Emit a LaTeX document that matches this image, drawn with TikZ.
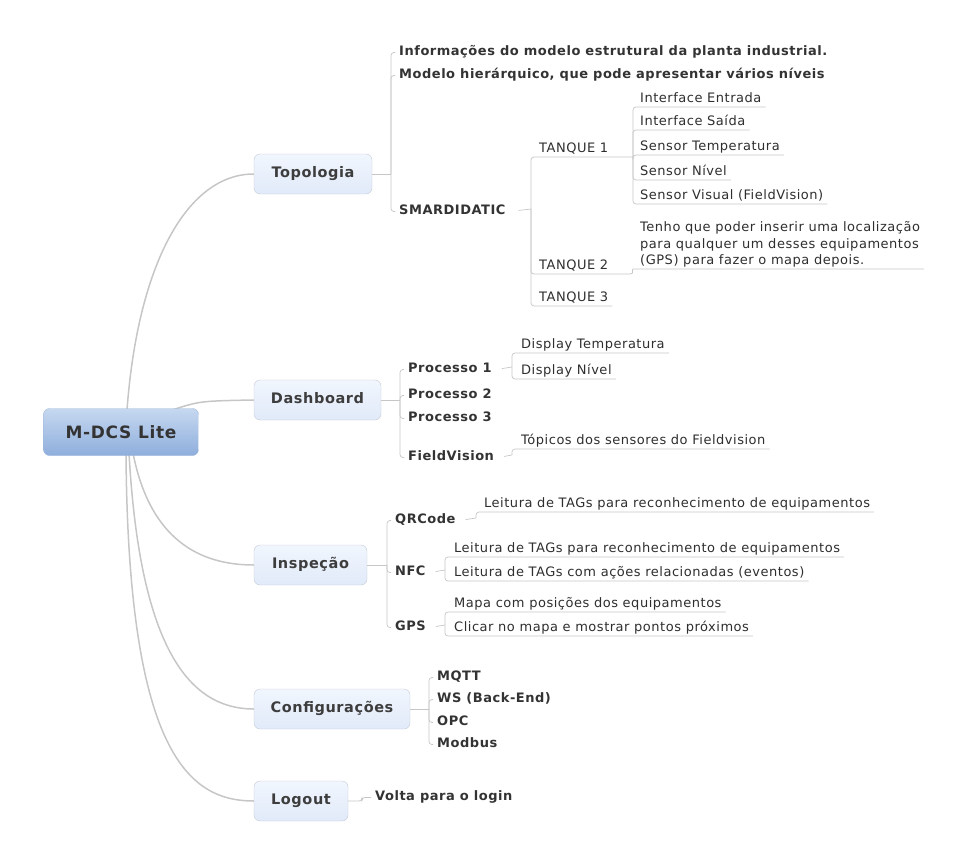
\documentclass[tikz,border=0pt]{standalone}
\usepackage{fontspec}
\setmainfont{DejaVu Sans}[LetterSpace=4]
\usetikzlibrary{positioning}

\definecolor{lineGray}{HTML}{C6C6C6}
\definecolor{textGray}{HTML}{333333}
\definecolor{rootTop}{HTML}{C6D8F0}
\definecolor{rootBot}{HTML}{8EAEDC}
\definecolor{rootLine}{HTML}{9DB6DA}
\definecolor{topicTop}{HTML}{F1F6FE}
\definecolor{topicBot}{HTML}{E1EAF9}
\definecolor{topicLine}{HTML}{C4CAD4}

\begin{document}
\begin{tikzpicture}[x=1pt, y=-1pt,
    rootbox/.style={draw=rootLine, rounded corners=6pt, top color=rootTop, bottom color=rootBot,
        minimum width=155pt, minimum height=47pt, text=textGray,
        font=\fontsize{17}{20}\selectfont\bfseries},
    topic/.style={draw=topicLine, rounded corners=6pt, top color=topicTop, bottom color=topicBot,
        minimum height=40pt, text=textGray!95, text height=0.72em, text depth=0.1em,
        font=\fontsize{14.5}{17}\selectfont\bfseries},
    sub/.style={anchor=west, inner xsep=4pt, inner ysep=1pt, text=textGray,
        text height=0.75em, text depth=0.2em, yshift=-2.5pt,
        font=\fontsize{13}{15}\selectfont\bfseries},
    leaf/.style={anchor=south west, inner xsep=4pt, inner ysep=2pt, text=textGray!90!black,
        text depth=0.22em, font=\fontsize{13}{16.5}\selectfont},
    branch/.style={draw=lineGray, line width=1.5pt},
    twig/.style={draw=lineGray, line width=0.7pt, rounded corners=3pt},
]
\useasboundingbox (0,0) rectangle (971,864);

% main topics
\node[topic, minimum width=118pt] (topo) at (313,174) {Topologia};
\node[topic, minimum width=127pt] (dash) at (317.5,400) {Dashboard};
\node[topic, minimum width=113pt] (insp) at (310.5,565) {Inspeção};
\node[topic, minimum width=156pt] (conf) at (332,709) {Configurações};
\node[topic, minimum width=94pt] (logo) at (301,801) {Logout};

% branches out of the root
\coordinate (rTopo) at (127,410);
\coordinate (rDash) at (172,410);
\coordinate (rInsp) at (133,453);
\coordinate (rConf) at (129,453);
\coordinate (rLogo) at (126,453);
\draw[branch] (rTopo) .. controls (138,262) and (188,174) .. (topo.west);
\draw[branch] (rDash) .. controls (200,401) .. (dash.west);
\draw[branch] (rInsp) .. controls (150,540) and (200,565) .. (insp.west);
\draw[branch] (rConf) .. controls (140,650) and (190,709) .. (conf.west);
\draw[branch] (rLogo) .. controls (128,755) and (190,801) .. (logo.west);

\node[rootbox] (root) at (121,432) {M-DCS Lite};

% Topologia
\coordinate (topoB) at (391,174);
\node[sub] (info) at (395,50) {Informações do modelo estrutural da planta industrial.};
\node[sub] (hier) at (395,73) {Modelo hierárquico, que pode apresentar vários níveis};
\node[sub] (smar) at (395,209) {SMARDIDATIC};
\draw[twig] (topo.east) -- (topoB);
\foreach \n in {info,hier,smar}
    \draw[twig] (topoB) |- (\n.west);

% SMARDIDATIC tanks
\coordinate (smarB) at (531,209);
\draw[twig, shorten <=9pt] (smar.east) -- (smarB);
\node[leaf] (tq1) at (535,157) {TANQUE 1};
\coordinate (tq1B) at (633,157);
\draw[twig] (smarB) |- (tq1B);
\node[leaf] (ie) at (636,107) {Interface Entrada};
\node[leaf] (is) at (636,130) {Interface Saída};
\node[leaf] (st) at (636,155) {Sensor Temperatura};
\node[leaf] (sn) at (636,180) {Sensor Nível};
\node[leaf] (sv) at (636,204) {Sensor Visual (FieldVision)};
\foreach \n in {ie,is,st,sn,sv}
    \draw[twig] (tq1B) |- (\n.south east);

\node[leaf] (tq2) at (535,274) {TANQUE 2};
\coordinate (tq2B) at (630,274);
\draw[twig] (smarB) |- (tq2B);
\node[leaf, align=left] (note) at (636,269) {Tenho que poder inserir uma localização\\para qualquer um desses equipamentos\\(GPS) para fazer o mapa depois.};
\draw[twig] (tq2B) .. controls (635,274) and (631,269) .. (note.south west) -- (note.south east);

\node[leaf] (tq3) at (535,306) {TANQUE 3};
\draw[twig] (smarB) |- (tq3.south east);

% Dashboard
\coordinate (dashB) at (400,400);
\node[sub] (p1) at (404,367) {Processo 1};
\node[sub] (p2) at (404,393) {Processo 2};
\node[sub] (p3) at (404,416) {Processo 3};
\node[sub] (fv) at (404,455) {FieldVision};
\draw[twig] (dash.east) -- (dashB);
\foreach \n in {p1,p2,p3,fv}
    \draw[twig] (dashB) |- (\n.west);
\coordinate (p1B) at (512,367);
\draw[twig, shorten <=6pt] (p1.east) -- (p1B);
\node[leaf] (dt) at (517,353) {Display Temperatura};
\node[leaf] (dn) at (517,379) {Display Nível};
\foreach \n in {dt,dn}
    \draw[twig] (p1B) |- (\n.south east);
\coordinate (fvB) at (512,455);
\draw[twig, shorten <=6pt] (fv.east) -- (fvB);
\node[leaf] (tp) at (517,449) {Tópicos dos sensores do Fieldvision};
\draw[twig] (fvB) |- (tp.south east);

% Inspeção
\coordinate (inspB) at (387,565);
\node[sub] (qr) at (391,518) {QRCode};
\node[sub] (nfc) at (391,570) {NFC};
\node[sub] (gps) at (391,625) {GPS};
\draw[twig] (insp.east) -- (inspB);
\foreach \n in {qr,nfc,gps}
    \draw[twig] (inspB) |- (\n.west);
\coordinate (qrB) at (476,518);
\draw[twig, shorten <=6pt] (qr.east) -- (qrB);
\node[leaf] (lq) at (480,512) {Leitura de TAGs para reconhecimento de equipamentos};
\draw[twig] (qrB) |- (lq.south east);
\coordinate (nfcB) at (445,570);
\draw[twig, shorten <=6pt] (nfc.east) -- (nfcB);
\node[leaf] (ln1) at (450,557) {Leitura de TAGs para reconhecimento de equipamentos};
\node[leaf] (ln2) at (450,581) {Leitura de TAGs com ações relacionadas (eventos)};
\foreach \n in {ln1,ln2}
    \draw[twig] (nfcB) |- (\n.south east);
\coordinate (gpsB) at (445,625);
\draw[twig, shorten <=6pt] (gps.east) -- (gpsB);
\node[leaf] (lg1) at (450,612) {Mapa com posições dos equipamentos};
\node[leaf] (lg2) at (450,636) {Clicar no mapa e mostrar pontos próximos};
\foreach \n in {lg1,lg2}
    \draw[twig] (gpsB) |- (\n.south east);

% Configurações
\coordinate (confB) at (429,709);
\node[sub] (mqtt) at (433,675) {MQTT};
\node[sub] (ws) at (433,697) {WS (Back-End)};
\node[sub] (opc) at (433,720) {OPC};
\node[sub] (modb) at (433,742) {Modbus};
\draw[twig] (conf.east) -- (confB);
\foreach \n in {mqtt,ws,opc,modb}
    \draw[twig] (confB) |- (\n.west);

% Logout
\coordinate (logoB) at (362,801);
\node[sub] (volta) at (371,795) {Volta para o login};
\draw[twig] (logo.east) -- (logoB) |- (volta.west);
\end{tikzpicture}
\end{document}
